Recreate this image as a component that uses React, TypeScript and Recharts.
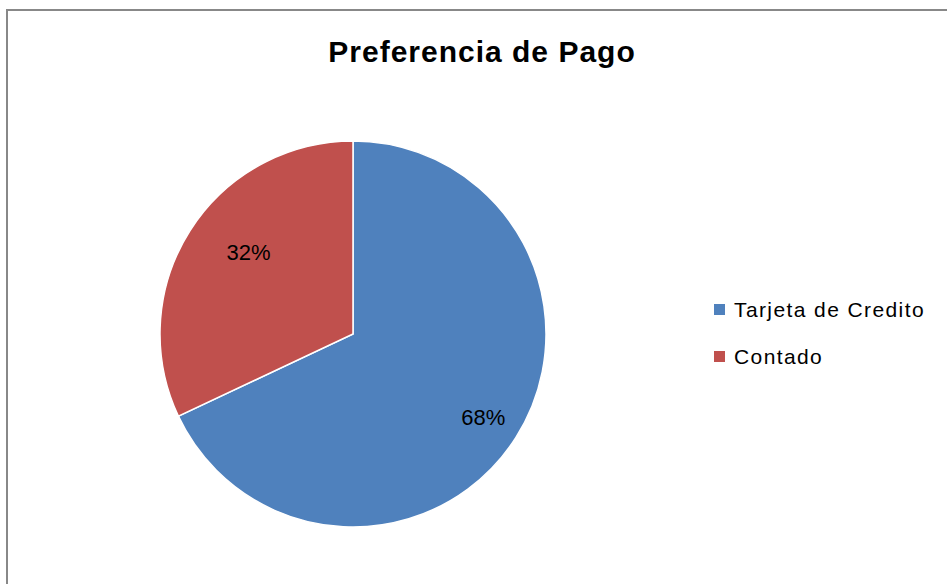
import { PieChart, Pie, Cell, Legend } from "recharts";

const categories = ["Tarjeta de Credito", "Contado"];
const shares = [68, 32];
const colors = ["#4F81BD", "#C0504D"];

const data = categories.map((name, i) => ({ name, value: shares[i] }));

// Excel "best fit" sits the labels at slightly different depths
const labelDepth = [0.8, 0.69];
const labelTurn = [0, -6];

const RADIAN = Math.PI / 180;
const font = "'Liberation Sans', Arial, sans-serif";

function renderLabel(props: any) {
  const { cx, cy, midAngle, outerRadius, index, value } = props;
  const r = outerRadius * labelDepth[index];
  const a = (midAngle + labelTurn[index]) * RADIAN;
  const x = cx + r * Math.cos(a);
  const y = cy - r * Math.sin(a);
  return (
    <text
      x={x}
      y={y + 1}
      textAnchor="middle"
      dominantBaseline="central"
      fill="#000"
      fontSize={22}
      fontFamily={font}
    >
      {`${value}%`}
    </text>
  );
}

function LegendBox() {
  return (
    <div
      style={{ fontFamily: font, fontSize: 21, letterSpacing: 1.4, color: "#000" }}
    >
      {data.map((d, i) => (
        <div
          key={d.name}
          style={{ display: "flex", alignItems: "center", height: 47 }}
        >
          <span
            style={{
              width: 11,
              height: 11,
              background: colors[i],
              marginRight: 9,
              display: "inline-block",
            }}
          />
          <span>{d.name}</span>
        </div>
      ))}
    </div>
  );
}

export default function App() {
  return (
    <div
      style={{
        position: "absolute",
        left: 0,
        top: 0,
        width: 947,
        height: 584,
        overflow: "hidden",
        background: "#fff",
      }}
    >
      <div
        style={{
          position: "absolute",
          left: 6,
          top: 9,
          width: 980,
          height: 620,
          border: "2px solid #888",
          boxSizing: "border-box",
        }}
      />
      <div
        style={{
          position: "absolute",
          left: 0,
          top: 35,
          width: 964,
          textAlign: "center",
          fontFamily: font,
          fontWeight: "bold",
          fontSize: 30,
          lineHeight: "34px",
          letterSpacing: 1,
          color: "#000",
        }}
      >
        Preferencia de Pago
      </div>
      <div style={{ position: "absolute", left: 0, top: 0 }}>
        <PieChart width={947} height={584}>
          <Pie
            data={data}
            dataKey="value"
            nameKey="name"
            cx={348}
            cy={329}
            outerRadius={193}
            startAngle={90}
            endAngle={-270}
            stroke="#fff"
            strokeWidth={1.5}
            label={renderLabel}
            labelLine={false}
            isAnimationActive={false}
          >
            {data.map((d, i) => (
              <Cell key={d.name} fill={colors[i]} />
            ))}
          </Pie>
          <Legend
            content={<LegendBox />}
            wrapperStyle={{ left: 714, top: 286, width: 240 }}
          />
        </PieChart>
      </div>
    </div>
  );
}
